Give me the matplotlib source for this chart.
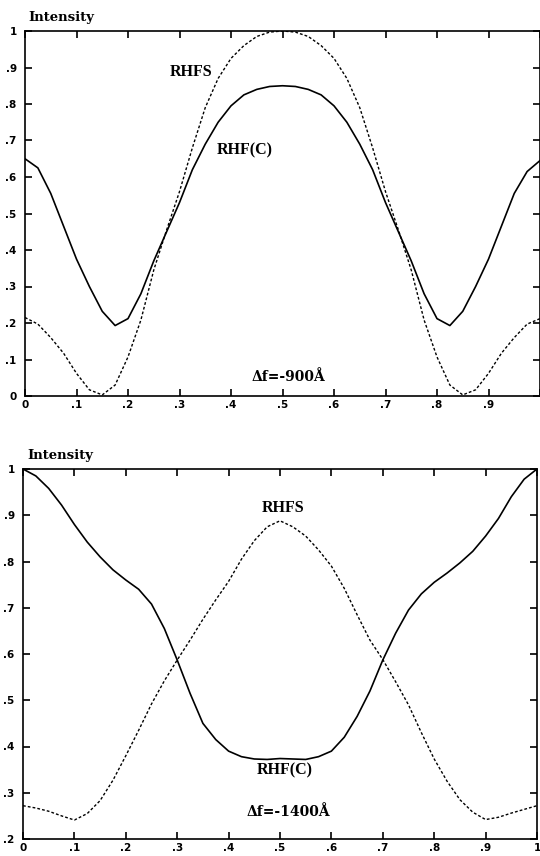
import matplotlib.pyplot as plt
import numpy as np

# sample positions (fraction of the period), step 0.025
x_pos = [i * 0.025 for i in range(41)]

# upper panel, defocus -900 A
top_rhfc = [0.65, 0.625, 0.555, 0.465, 0.375, 0.30, 0.232, 0.193, 0.212, 0.28,
            0.37, 0.45, 0.53, 0.62, 0.69, 0.75, 0.795, 0.825, 0.84, 0.848,
            0.85,
            0.848, 0.84, 0.825, 0.795, 0.75, 0.69, 0.62, 0.53, 0.45, 0.37,
            0.28, 0.212, 0.193, 0.232, 0.30, 0.375, 0.465, 0.555, 0.615, 0.645]
top_rhfs = [0.215, 0.197, 0.16, 0.117, 0.062, 0.017, 0.003, 0.03, 0.107, 0.208,
            0.345, 0.455, 0.56, 0.68, 0.79, 0.87, 0.925, 0.96, 0.985, 0.997,
            1.0,
            0.997, 0.985, 0.96, 0.925, 0.87, 0.79, 0.68, 0.56, 0.455, 0.345,
            0.208, 0.107, 0.03, 0.003, 0.017, 0.062, 0.117, 0.16, 0.197, 0.212]

# lower panel, defocus -1400 A
bot_rhfc = [1.0, 0.985, 0.958, 0.922, 0.88, 0.842, 0.81, 0.782, 0.76, 0.74,
            0.708, 0.655, 0.587, 0.515, 0.45, 0.415, 0.39, 0.378, 0.373, 0.372,
            0.374,
            0.373, 0.372, 0.378, 0.39, 0.42, 0.465, 0.52, 0.587, 0.645, 0.695,
            0.73, 0.755, 0.775, 0.797, 0.822, 0.855, 0.893, 0.94, 0.978, 1.0]
bot_rhfs = [0.272, 0.267, 0.26, 0.25, 0.241, 0.255, 0.283, 0.327, 0.38, 0.435,
            0.492, 0.542, 0.587, 0.63, 0.675, 0.717, 0.757, 0.805, 0.845, 0.875,
            0.888,
            0.875, 0.855, 0.825, 0.79, 0.742, 0.685, 0.63, 0.588, 0.54, 0.49,
            0.43, 0.373, 0.325, 0.285, 0.258, 0.242, 0.247, 0.256, 0.264, 0.272]

x_ticks = [0.1 * i for i in range(11)]
x_labels_top = ['0', '.1', '.2', '.3', '.4', '.5', '.6', '.7', '.8', '.9', '']
x_labels_bot = ['0', '.1', '.2', '.3', '.4', '.5', '.6', '.7', '.8', '.9', '1']
y_ticks_top = [0.1 * i for i in range(11)]
y_labels_top = ['0', '.1', '.2', '.3', '.4', '.5', '.6', '.7', '.8', '.9', '1']
y_ticks_bot = [0.1 * i for i in range(2, 11)]
y_labels_bot = ['.2', '.3', '.4', '.5', '.6', '.7', '.8', '.9', '1']

serif = 'Liberation Serif'
wide = 'DejaVu Serif'
tick_font = {'family': 'DejaVu Sans', 'size': 7.5, 'weight': 'bold'}


def style_axes(ax, yt, yl, xl, ylim):
    ax.set_xlim(0, 1)
    ax.set_ylim(*ylim)
    ax.set_xticks(x_ticks)
    ax.set_xticklabels(xl, fontdict=tick_font)
    ax.set_yticks(yt)
    ax.set_yticklabels(yl, fontdict=tick_font)
    ax.tick_params(direction='in', length=5, width=1.2, top=True, right=True,
                   pad=3)
    ax.tick_params(axis='y', pad=6)
    for sp in ax.spines.values():
        sp.set_linewidth(1.2)


fig = plt.figure(figsize=(5.4, 8.56), dpi=100)

ax1 = fig.add_axes([25 / 540, 1 - 396 / 856, 515 / 540, 365 / 856])
ax1.plot(x_pos, top_rhfc, color='black', lw=1.2)
ax1.plot(x_pos, top_rhfs, color='black', lw=1.0, ls=(0, (2, 1.5)))
style_axes(ax1, y_ticks_top, y_labels_top, x_labels_top, (0, 1))
ax1.text(0.322, 0.888, 'RHFS', family=serif, weight='bold', fontsize=11.5,
         ha='center', va='center')
ax1.text(0.427, 0.674, 'RHF(C)', family=serif, weight='bold', fontsize=11.5,
         ha='center', va='center')
ax1.text(0.511, 0.052, 'Δf=-900Å', family=wide, weight='bold', fontsize=10,
         ha='center', va='center')
fig.text(28 / 540, 1 - 18 / 856, 'Intensity', family=wide, weight='bold',
         fontsize=9.5, ha='left', va='center')

ax2 = fig.add_axes([23 / 540, 1 - 839 / 856, 514 / 540, 370 / 856])
ax2.plot(x_pos, bot_rhfc, color='black', lw=1.2)
ax2.plot(x_pos, bot_rhfs, color='black', lw=1.0, ls=(0, (2, 1.5)))
style_axes(ax2, y_ticks_bot, y_labels_bot, x_labels_bot, (0.2, 1))
ax2.text(0.506, 0.916, 'RHFS', family=serif, weight='bold', fontsize=11.5,
         ha='center', va='center')
ax2.text(0.51, 0.349, 'RHF(C)', family=serif, weight='bold', fontsize=11.5,
         ha='center', va='center')
ax2.text(0.516, 0.258, 'Δf=-1400Å', family=wide, weight='bold', fontsize=10,
         ha='center', va='center')
fig.text(27 / 540, 1 - 455 / 856, 'Intensity', family=wide, weight='bold',
         fontsize=9.5, ha='left', va='center')

fig.savefig('out.png', dpi=100)
